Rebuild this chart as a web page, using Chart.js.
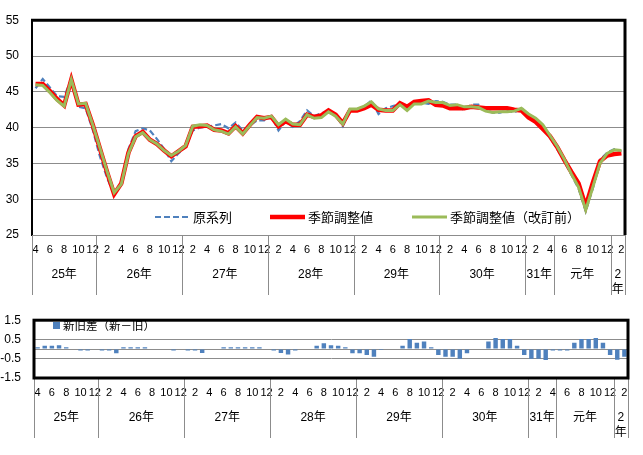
<!DOCTYPE html>
<html><head><meta charset="utf-8">
<script src="https://cdn.jsdelivr.net/npm/chart.js@4.4.0/dist/chart.umd.min.js"></script>
<style>
html,body{margin:0;padding:0;background:#fff;}
#wrap{position:relative;width:643px;height:455px;overflow:hidden;}
.box{position:absolute;left:0;width:643px;}
</style></head><body>
<div id="wrap">
<div class="box" style="top:0;height:300px"><canvas id="c1" width="643" height="300"></canvas></div>
<div class="box" style="top:300px;height:155px"><canvas id="c2" width="643" height="155"></canvas></div>
</div>
<script>
// ---- categories (month numbers, Apr 2013 .. Feb 2020) ----
const months = ['4','5','6','7','8','9','10','11','12',
 '1','2','3','4','5','6','7','8','9','10','11','12',
 '1','2','3','4','5','6','7','8','9','10','11','12',
 '1','2','3','4','5','6','7','8','9','10','11','12',
 '1','2','3','4','5','6','7','8','9','10','11','12',
 '1','2','3','4','5','6','7','8','9','10','11','12',
 '1','2','3','4','5','6','7','8','9','10','11','12',
 '1','2'];
const yearLabels = ['25年','26年','27年','28年','29年','30年','31年','元年','2年'];
const yearMonthCounts = [9,12,12,12,12,12,4,8,2];

// ---- series ----
const rawSeries = [45.5,46.8,45.6,44.4,44.3,46.8,42.9,42.7,39.7,
 36.0,33.0,30.7,32.0,37.0,39.5,39.9,39.6,38.4,37.0,35.3,36.4,
 37.3,39.6,40.0,40.1,40.3,40.5,39.9,40.7,39.6,40.3,41.0,41.0,
 41.6,39.6,40.9,40.1,40.9,42.4,41.6,42.0,42.3,41.7,40.2,42.4,
 42.4,42.9,43.8,41.9,42.7,43.0,43.3,43.0,43.5,43.5,43.3,43.7,
 43.6,43.2,43.2,42.4,43.2,43.2,42.4,42.1,42.1,42.4,42.1,42.8,
 41.7,41.0,39.9,38.6,37.0,35.3,33.4,31.5,28.3,31.5,35.5,36.5,
 37.0,36.7];
const saNew = [46.1,46.1,45.1,44.0,43.1,46.7,43.2,43.3,40.4,
 37.1,33.8,30.7,32.2,36.5,38.8,39.4,38.3,37.7,36.8,36.0,36.7,
 37.4,40.1,40.2,40.3,39.7,39.6,39.2,40.2,39.2,40.4,41.5,41.3,
 41.5,40.2,40.9,40.4,40.4,41.8,41.5,41.7,42.4,41.8,40.6,42.4,
 42.4,42.7,43.2,42.5,42.4,42.4,43.4,42.9,43.6,43.7,43.8,43.2,
 43.1,42.7,42.7,42.7,42.9,42.8,42.7,42.7,42.7,42.7,42.5,42.4,
 41.4,40.8,39.8,38.8,37.3,35.5,33.8,32.2,29.0,32.3,35.3,36.1,
 36.3,36.4];
const saOld = [46.0,45.9,44.9,43.8,43.0,46.7,43.3,43.4,40.4,
 37.2,33.9,30.9,32.1,36.4,38.7,39.3,38.3,37.7,36.8,36.1,36.7,
 37.5,40.2,40.4,40.3,39.7,39.5,39.1,40.1,39.1,40.3,41.4,41.3,
 41.6,40.4,41.2,40.5,40.4,41.8,41.3,41.4,42.2,41.6,40.5,42.6,
 42.6,43.0,43.6,42.6,42.4,42.4,43.2,42.4,43.3,43.3,43.7,43.5,
 43.5,43.1,43.2,42.9,42.9,42.8,42.3,42.1,42.2,42.2,42.3,42.7,
 41.9,41.3,40.4,38.9,37.4,35.6,33.5,31.7,28.5,31.7,35.0,36.4,
 36.9,36.8];
const diffSeries = [0.1,0.18,0.18,0.2,0.1,0,-0.07,-0.07,0,
 -0.07,-0.07,-0.22,0.1,0.1,0.1,0.1,0,0,0,-0.07,0,
 -0.07,-0.07,-0.2,0,0,0.1,0.1,0.1,0.1,0.1,0.1,0,
 -0.07,-0.2,-0.28,-0.07,0,0,0.17,0.3,0.2,0.18,0.1,-0.22,
 -0.22,-0.3,-0.4,-0.05,0,0,0.18,0.52,0.33,0.4,0.1,-0.3,
 -0.4,-0.4,-0.5,-0.22,0,0,0.4,0.58,0.52,0.52,0.18,-0.3,
 -0.5,-0.5,-0.57,-0.07,-0.07,-0.07,0.33,0.52,0.52,0.58,0.33,-0.3,
 -0.55,-0.4];

// ---- tick labels ----
const topTicks = [25,30,35,40,45,50,55];
const bottomTicks = [-1.5,-0.5,0,0.5,1.5];

const FAM = '"Liberation Sans","Noto Sans CJK JP",sans-serif';
const JFAM = '"Noto Sans CJK JP","Liberation Sans",sans-serif';

const yearRow = {
  id:'yearRow',
  afterDraw(chart){
    const {ctx, chartArea:ca} = chart;
    const x = chart.scales.x;
    const half = (x.getPixelForValue(1) - x.getPixelForValue(0)) / 2;
    ctx.save();
    ctx.strokeStyle = '#8c8c8c'; ctx.lineWidth = 1;
    ctx.fillStyle = '#000';
    ctx.font = '12px ' + FAM;
    ctx.textAlign = 'center'; ctx.textBaseline = 'middle';
    let start = 0;
    const edges = [];
    yearMonthCounts.forEach((n, k) => {
      const l = x.getPixelForValue(start) - half;
      const r = x.getPixelForValue(start + n - 1) + half;
      if (k === 0) edges.push(l);
      edges.push(r);
      const cx = (l + r) / 2, cy = ca.bottom + 40;
      const t = yearLabels[k];
      if (ctx.measureText(t).width > r - l - 2) {
        const chars = Array.from(t);
        chars.forEach((c, j) => ctx.fillText(c, cx, cy + j * 15));
      } else {
        ctx.fillText(t, cx, cy);
      }
      start += n;
    });
    edges.forEach(e => {
      const px = Math.round(e) + 0.5;
      ctx.beginPath(); ctx.moveTo(px, ca.bottom); ctx.lineTo(px, ca.bottom + 60); ctx.stroke();
    });
    ctx.restore();
  }
};

const topFrame = {
  id:'topFrame',
  afterDraw(chart){
    const {ctx, chartArea:ca} = chart;
    ctx.save();
    ctx.strokeStyle = '#000'; ctx.lineWidth = 3;
    ctx.beginPath();
    ctx.moveTo(ca.left - 1, ca.top); ctx.lineTo(ca.right, ca.top); ctx.lineTo(ca.right, ca.bottom);
    ctx.stroke();
    // legend
    const items = [{ds:2, x:155},{ds:1, x:270},{ds:0, x:412}];
    const y = 217;
    items.forEach(it => {
      const d = chart.data.datasets[it.ds];
      ctx.strokeStyle = d.borderColor; ctx.lineWidth = d.borderWidth;
      ctx.setLineDash(d.borderDash || []);
      ctx.lineCap = 'butt';
      ctx.beginPath(); ctx.moveTo(it.x, y); ctx.lineTo(it.x + 35, y); ctx.stroke();
      ctx.setLineDash([]);
      ctx.fillStyle = '#000'; ctx.font = '13px ' + JFAM;
      ctx.textAlign = 'left'; ctx.textBaseline = 'middle';
      ctx.fillText(d.label, it.x + 38, y);
    });
    ctx.restore();
  }
};

const bottomFrame = {
  id:'bottomFrame',
  afterDraw(chart){
    const {ctx, chartArea:ca} = chart;
    ctx.save();
    ctx.strokeStyle = '#000'; ctx.lineWidth = 3;
    ctx.strokeRect(ca.left, ca.top, ca.right - ca.left, ca.bottom - ca.top);
    const d = chart.data.datasets[0];
    ctx.fillStyle = d.backgroundColor;
    ctx.fillRect(53, 22, 7, 7);
    ctx.fillStyle = '#000'; ctx.font = '11.5px ' + JFAM;
    ctx.textAlign = 'left'; ctx.textBaseline = 'middle';
    ctx.fillText(d.label, 63, 25.5);
    ctx.restore();
  }
};

const monthTick = (v, i) => (Number(months[i]) % 2 === 0 ? months[i] : '');

new Chart(document.getElementById('c1'), {
  type:'line',
  data:{ labels: months, datasets:[
    {label:'季節調整値（改訂前）', data: saOld, borderColor:'#9BBB59', borderWidth:3, pointRadius:0, order:0, tension:0},
    {label:'季節調整値', data: saNew, borderColor:'#FF0000', borderWidth:4.5, pointRadius:0, order:1, tension:0},
    {label:'原系列', data: rawSeries, borderColor:'#4F81BD', borderWidth:2.2, borderDash:[6,3], pointRadius:0, order:2, tension:0}
  ]},
  options:{
    responsive:false, animation:false,
    layout:{padding:{top:14, right:18, left:0, bottom:0}},
    plugins:{legend:{display:false}, tooltip:{enabled:false}},
    scales:{
      x:{type:'category', offset:true,
        grid:{display:false, drawTicks:false},
        border:{display:true, color:'#8c8c8c', width:1},
        ticks:{autoSkip:false, maxRotation:0, minRotation:0, padding:8, color:'#000',
          font:{size:11, family:FAM}, callback: monthTick},
        afterFit: s => { s.height = 65; }},
      y:{min:25, max:55,
        afterBuildTicks: s => { s.ticks = topTicks.map(v => ({value:v})); },
        grid:{color:'#8c8c8c', lineWidth:1, drawTicks:false},
        border:{display:true, color:'#000', width:2},
        ticks:{autoSkip:false, padding:13, color:'#000', font:{size:12, family:FAM}},
        afterFit: s => { s.width = 32; }}
    }
  },
  plugins:[yearRow, topFrame]
});

new Chart(document.getElementById('c2'), {
  type:'bar',
  data:{ labels: months, datasets:[
    {label:'新旧差（新－旧）', data: diffSeries, backgroundColor:'#4F81BD', barPercentage:0.62, categoryPercentage:1}
  ]},
  options:{
    responsive:false, animation:false,
    layout:{padding:{top:12, right:15, left:0, bottom:0}},
    plugins:{legend:{display:false}, tooltip:{enabled:false}},
    scales:{
      x:{type:'category', offset:true,
        grid:{display:false, drawTicks:false},
        border:{display:false},
        ticks:{autoSkip:false, maxRotation:0, minRotation:0, padding:8, color:'#000',
          font:{size:11, family:FAM}, callback: monthTick},
        afterFit: s => { s.height = 77; }},
      y:{min:-1.5, max:1.5,
        afterBuildTicks: s => { s.ticks = bottomTicks.map(v => ({value:v})); },
        grid:{color:'#8c8c8c', lineWidth:1, drawTicks:false},
        border:{display:true, color:'#000', width:2},
        ticks:{autoSkip:false, padding:13, color:'#000', font:{size:12, family:FAM},
          callback: v => (v === 0 ? '' : String(v))},
        afterFit: s => { s.width = 34; }}
    }
  },
  plugins:[yearRow, bottomFrame]
});
</script>
</body></html>
